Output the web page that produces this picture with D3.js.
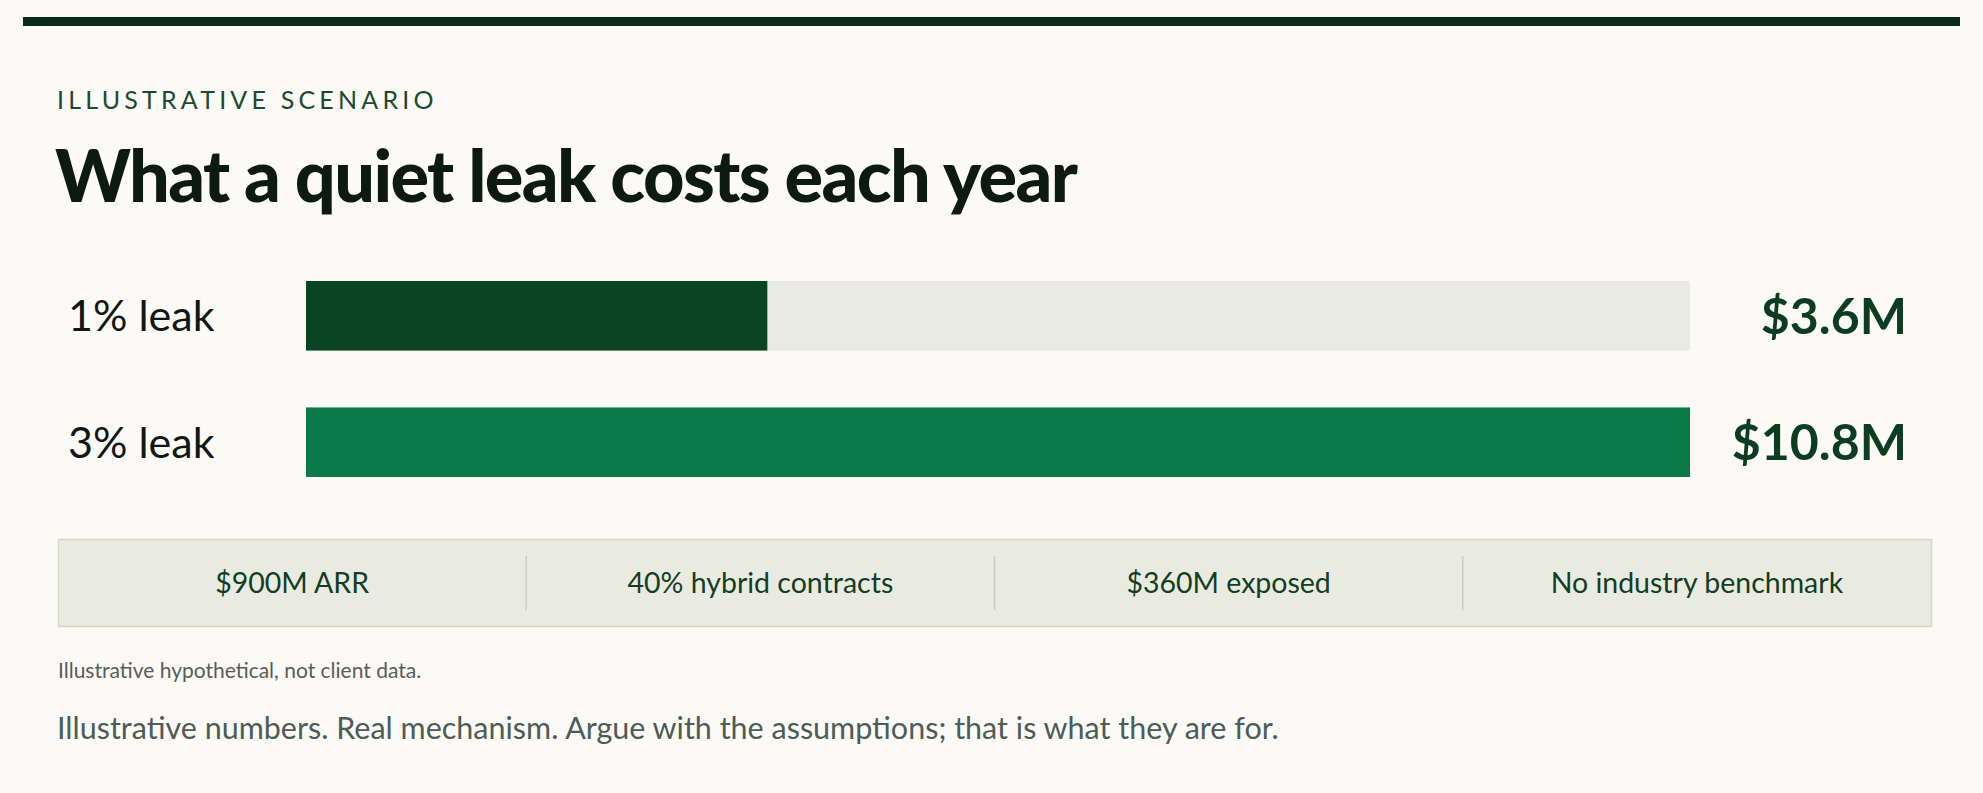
<!DOCTYPE html>
<html>
<head>
<meta charset="utf-8">
<script src="https://cdn.jsdelivr.net/npm/d3@7"></script>
<style>
  html, body { margin: 0; padding: 0; background: #fbfaf6; }
  svg { display: block; font-family: Lato, "Noto Sans", sans-serif; }
</style>
</head>
<body>
<div id="root"></div>
<script>
const leakLabels = ["1% leak", "3% leak"];
const leakCosts = [3.6, 10.8];
const costMax = 10.8;
const assumptions = ["$900M ARR", "40% hybrid contracts", "$360M exposed", "No industry benchmark"];

const eyebrow = "ILLUSTRATIVE SCENARIO";
const title = "What a quiet leak costs each year";
const footnote = "Illustrative hypothetical, not client data.";
const caption = "Illustrative numbers. Real mechanism. Argue with the assumptions; that is what they are for.";

const outerWidth = 1983;
const outerHeight = 793;

const barLeft = 306, barRight = 1690;
const barTop = 281, barBottom = 477;

const svg = d3.select("#root")
              .append("svg")
              .attr("width", outerWidth)
              .attr("height", outerHeight);

svg.append("rect")
    .attr("width", outerWidth)
    .attr("height", outerHeight)
    .attr("fill", "#fbfaf6");

// top rule
svg.append("rect")
    .attr("x", 23).attr("y", 17)
    .attr("width", 1937).attr("height", 9)
    .attr("fill", "#0c2a1a");

svg.append("text")
    .attr("x", 57).attr("y", 109)
    .attr("fill", "#1d4a2d")
    .style("font-size", "25px")
    .style("letter-spacing", "4.2px")
    .text(eyebrow);

svg.append("text")
    .attr("x", 55).attr("y", 202)
    .attr("fill", "#0d1a14")
    .style("font-size", "72px")
    .style("font-weight", 900)
    .style("letter-spacing", "-1.6px")
    .text(title);

let scaleX = d3.scaleLinear().domain([0, costMax]).range([barLeft, barRight]);
let scaleY = d3.scaleBand().domain(leakLabels).range([barTop, barBottom]).paddingInner(0.45);

const rows = leakLabels.map((l, i) => ({ label: l, cost: leakCosts[i], i: i }));

let row = svg.selectAll(".row")
             .data(rows)
             .enter().append("g")
             .attr("class", "row");

row.append("rect")
    .attr("x", scaleX(0))
    .attr("y", d => scaleY(d.label))
    .attr("width", scaleX(costMax) - scaleX(0))
    .attr("height", scaleY.bandwidth())
    .attr("fill", "#e9eae2");

row.append("rect")
    .attr("x", scaleX(0))
    .attr("y", d => scaleY(d.label))
    .attr("width", d => scaleX(d.cost) - scaleX(0))
    .attr("height", scaleY.bandwidth())
    .attr("fill", d => d.i === 0 ? "#0b4423" : "#0a7a48");

row.append("text")
    .attr("x", 68)
    .attr("y", d => scaleY(d.label) + scaleY.bandwidth() / 2)
    .attr("dy", "0.36em")
    .attr("fill", "#111714")
    .style("font-size", "43px")
    .text(d => d.label);

row.append("text")
    .attr("x", 1907)
    .attr("y", d => scaleY(d.label) + scaleY.bandwidth() / 2)
    .attr("dy", "0.36em")
    .attr("text-anchor", "end")
    .attr("fill", "#0c3d22")
    .style("font-size", "50px")
    .style("font-weight", 700)
    .text(d => "$" + d3.format(".1f")(d.cost) + "M");

// assumptions strip
const boxX = 58, boxY = 539, boxW = 1873, boxH = 87;
let scaleCell = d3.scaleBand().domain(d3.range(assumptions.length)).range([boxX, boxX + boxW]);

svg.append("rect")
    .attr("x", boxX + 0.5).attr("y", boxY + 0.5)
    .attr("width", boxW).attr("height", boxH)
    .attr("fill", "#e9ebe1")
    .attr("stroke", "#d3d8ca")
    .attr("stroke-width", 1.5);

let cell = svg.selectAll(".cell")
              .data(assumptions)
              .enter().append("g")
              .attr("class", "cell");

cell.filter((d, i) => i > 0)
    .append("line")
    .attr("x1", (d, i) => scaleCell(i + 1))
    .attr("x2", (d, i) => scaleCell(i + 1))
    .attr("y1", boxY + 17).attr("y2", boxY + 71)
    .attr("stroke", "#c9cdbf")
    .attr("stroke-width", 1.5);

cell.append("text")
    .attr("x", (d, i) => scaleCell(i) + scaleCell.bandwidth() / 2)
    .attr("y", boxY + boxH / 2)
    .attr("dy", "0.36em")
    .attr("text-anchor", "middle")
    .attr("fill", "#133d25")
    .style("font-size", "28.5px")
    .text(d => d);

svg.append("text")
    .attr("x", 58).attr("y", 678)
    .attr("fill", "#565e59")
    .style("font-size", "21px")
    .text(footnote);

svg.append("text")
    .attr("x", 57).attr("y", 739)
    .attr("fill", "#4d5c56")
    .style("font-size", "30.5px")
    .text(caption);
</script>
</body>
</html>
